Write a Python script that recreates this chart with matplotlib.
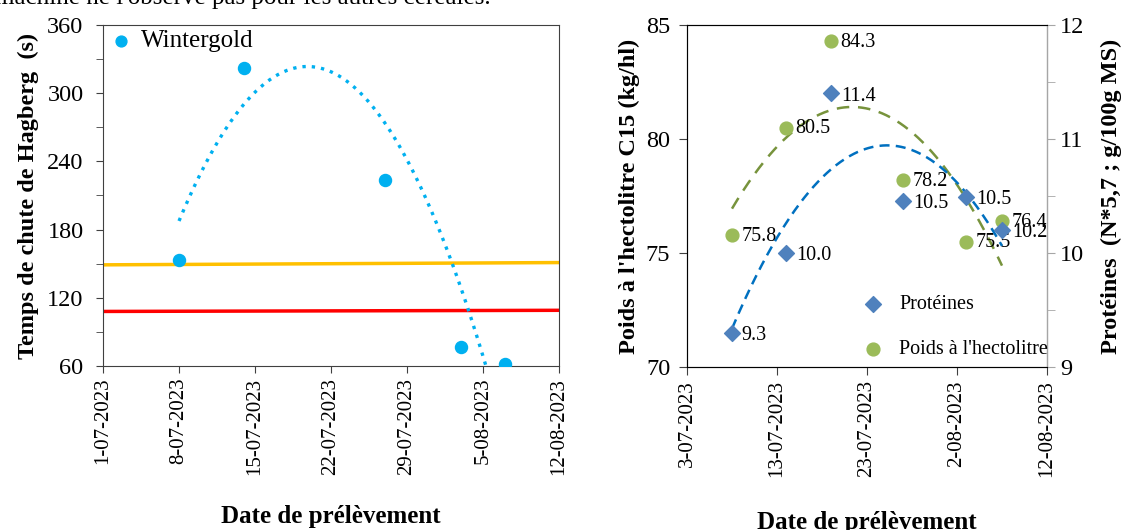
import matplotlib
matplotlib.use('Agg')
import matplotlib.pyplot as plt
import matplotlib.dates as mdates
import numpy as np
import pandas as pd

plt.rcParams['font.family'] = ['Liberation Serif', 'DejaVu Serif']

# temps de chute de Hagberg (Wintergold)
hag_dates = ['2023-07-08', '2023-07-14', '2023-07-27', '2023-08-03', '2023-08-07']
hag_vals = [153, 322, 224, 77, 62]
# dotted trendline of the original
hag_trend_dates = ['2023-07-08', '2023-07-14', '2023-07-19', '2023-07-27', '2023-08-03']
hag_trend_vals = [187, 292, 322, 273, 128]
seuil_dates = ['2023-07-01', '2023-08-12']
seuil_orange = [149, 151]
seuil_rouge = [108, 109]
left_ticks = ['2023-07-01', '2023-07-08', '2023-07-15', '2023-07-22',
              '2023-07-29', '2023-08-05', '2023-08-12']
left_ticklabels = ['1-07-2023', '8-07-2023', '15-07-2023', '22-07-2023',
                   '29-07-2023', '5-08-2023', '12-08-2023']

# poids a l'hectolitre et proteines
pr_dates = ['2023-07-08', '2023-07-14', '2023-07-19', '2023-07-27', '2023-08-03', '2023-08-07']
poids = [75.8, 80.5, 84.3, 78.2, 75.5, 76.4]
proteines = [9.3, 10.0, 11.4, 10.46, 10.49, 10.2]
right_ticks = ['2023-07-03', '2023-07-13', '2023-07-23', '2023-08-02', '2023-08-12']
right_ticklabels = ['3-07-2023', '13-07-2023', '23-07-2023', '2-08-2023', '12-08-2023']


def num(d):
    return mdates.date2num(pd.to_datetime(d))


def trend(x, y, x0, x1):
    #polynomial trendline order 2, like excel
    c = np.polyfit(x, y, 2)
    xs = np.linspace(x0, x1, 300)
    return xs, np.polyval(c, xs)


fig = plt.figure(figsize=(11.3, 5.3), dpi=100)
W, H = 1130, 530

# bit of text from the page above, cut off
fig.text(-0.004, 1.004, "machine ne l'observe pas pour les autres céréales.",
         fontsize=18, va='center', ha='left')

# ---- left chart
ax = fig.add_axes([103 / W, 1 - 366 / H, 456 / W, 341 / H])
hx = num(hag_dates)
ax.plot(num(seuil_dates), seuil_orange, color='#FFC000', lw=2.5, zorder=2)
ax.plot(num(seuil_dates), seuil_rouge, color='#FF0000', lw=2.5, zorder=2)
tx, ty = trend(num(hag_trend_dates), hag_trend_vals, hx.min(), hx.max())
ax.plot(tx, ty, color='#00B0F0', lw=2.4, ls=(0, (1, 1.8)), zorder=3)
ax.scatter(hx, hag_vals, s=75, color='#00B0F0', zorder=4, label='Wintergold')
ax.set_xlim(num(left_ticks[0]), num(left_ticks[-1]))
ax.set_ylim(60, 360)
ax.set_yticks(np.arange(60, 361, 60))
ax.set_yticks(np.arange(90, 360, 60), minor=True)
ax.set_xticks(num(left_ticks))
ax.set_xticklabels(left_ticklabels, rotation=90)
ax.tick_params(axis='x', labelsize=15, direction='out', length=5, color='#404040')
ax.tick_params(axis='y', labelsize=17.5, direction='out', length=5, pad=9, color='#404040')
ax.tick_params(axis='y', which='minor', direction='out', length=5, color='#404040')
for s in ax.spines.values():
    s.set_color('#404040')
ax.set_ylabel('Temps de chute de Hagberg  (s)', fontsize=17.5, fontweight='bold', labelpad=6)
ax.set_xlabel('Date de prélèvement', fontsize=18, fontweight='bold', labelpad=22)
ax.legend(loc='upper left', frameon=False, fontsize=18, handletextpad=0.3,
          handlelength=1.0, borderaxespad=0.0, borderpad=0.2, markerscale=0.9,
          bbox_to_anchor=(0.0, 1.0))

# ---- right chart
ax1 = fig.add_axes([687 / W, 1 - 367 / H, 360 / W, 342 / H])
ax2 = ax1.twinx()
px = num(pr_dates)

tx, ty = trend(px, poids, px.min(), px.max())
ax1.plot(tx, ty, color='#77933C', lw=1.8, ls=(0, (5, 3.5)), zorder=2)
ax1.scatter(px, poids, s=85, color='#9BBB59', zorder=3, label="Poids à l'hectolitre")
for xx, v in zip(px, poids):
    ax1.annotate(f'{v:.1f}', (xx, v), xytext=(7, -1), textcoords='offset points',
                 va='center', ha='left', fontsize=14.5)

tx, ty = trend(px, proteines, px.min(), px.max())
ax2.plot(tx, ty, color='#0070C0', lw=1.8, ls=(0, (4, 2.5)), zorder=2)
ax2.scatter(px, proteines, s=65, marker='D', color='#4F81BD', zorder=3, label='Protéines')
for xx, v in zip(px, proteines):
    ax2.annotate(f'{v:.1f}', (xx, v), xytext=(7, -2), textcoords='offset points',
                 va='center', ha='left', fontsize=14.5)

ax1.set_xlim(num(right_ticks[0]), num(right_ticks[-1]))
ax1.set_ylim(70, 85)
ax1.set_yticks([70, 75, 80, 85])
ax2.set_ylim(9, 12)
ax2.set_yticks([9, 10, 11, 12])
ax2.set_yticks([9.5, 10.5, 11.5], minor=True)
ax1.set_xticks(num(right_ticks))
ax1.set_xticklabels(right_ticklabels, rotation=90)
ax1.tick_params(axis='x', labelsize=15, direction='out', length=6, color='#404040')
ax1.tick_params(axis='y', labelsize=17.5, direction='out', length=6, pad=6, color='#404040')
ax2.tick_params(axis='y', which='both', labelsize=17.5, direction='out', length=6, color='#A6A6A6')
for s in ['left', 'bottom', 'top']:
    ax1.spines[s].set_color('#404040')
ax2.spines['right'].set_color('#A6A6A6')
ax1.set_ylabel("Poids à l'hectolitre C15 (kg/hl)", fontsize=17.5, fontweight='bold', labelpad=4)
ax2.set_ylabel('Protéines  (N*5,7 ; g/100g MS)', fontsize=17.5, fontweight='bold', labelpad=12)
ax1.set_xlabel('Date de prélèvement', fontsize=18, fontweight='bold', labelpad=24)

h1, l1 = ax1.get_legend_handles_labels()
h2, l2 = ax2.get_legend_handles_labels()
ax2.legend(h2 + h1, l2 + l1, loc='lower left', bbox_to_anchor=(0.41, -0.03),
           frameon=False, fontsize=14.5, labelspacing=1.3, handletextpad=0.3)

fig.savefig('out.png', dpi=100)
